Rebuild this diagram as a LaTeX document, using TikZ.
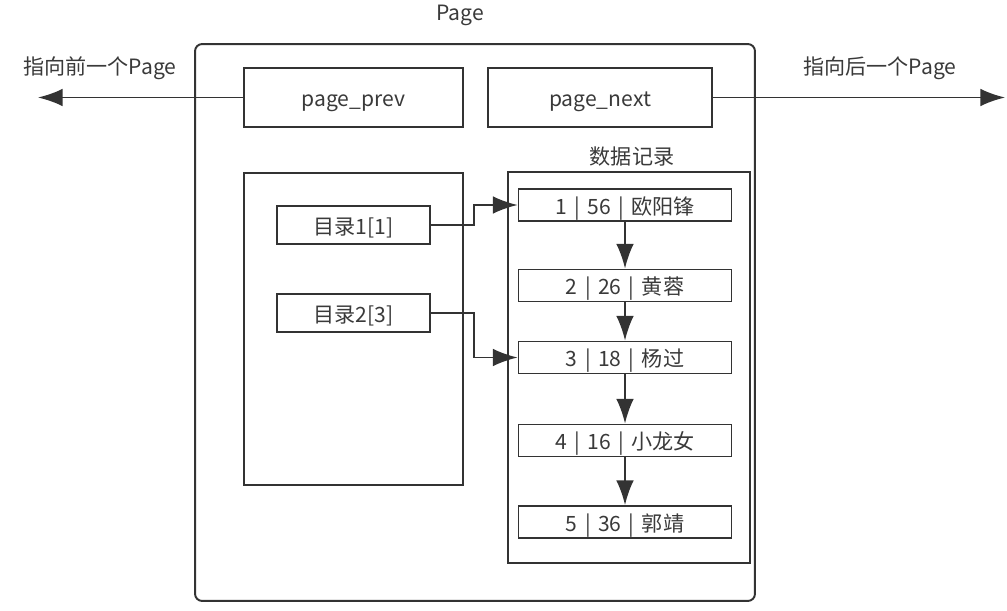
\documentclass[tikz,border=0pt]{standalone}
\usepackage{fontspec}
\setmainfont{Noto Sans CJK SC}
\usetikzlibrary{arrows.meta}
\definecolor{linegray}{HTML}{333333}
\definecolor{textgray}{HTML}{3A3A3A}
\tikzset{
  box/.style={draw=linegray, line width=1.1pt, fill=white, inner sep=0pt,
    text=textgray, font=\fontsize{12}{14}\selectfont,
    text height=1.2em, text depth=0.12em},
  record/.style={box, minimum width=4.26cm, minimum height=0.64cm},
  entry/.style={box, minimum width=3.06cm, minimum height=0.77cm},
  caption/.style={text=textgray, inner sep=0pt, font=\fontsize{12}{14}\selectfont},
  link/.style={draw=linegray, line width=1.1pt, -{Latex[length=14pt,width=10pt]}}
}
\newcommand{\sepbar}{\hspace{0.35em}|\hspace{0.35em}}

\begin{document}
\begin{tikzpicture}[x=0.02cm, y=-0.02cm]

    % Canvas with the reference margins
    \useasboundingbox[fill=white] (0,0) rectangle (1007,611);

    % Outer page frame and its title
    \node[draw=linegray, line width=1.1pt, rounded corners=4pt, minimum width=11.2cm,
      minimum height=11.14cm, inner sep=0pt] (page) at (475,322.5) {};
    \node[caption] (pagetitle) at (460,15) {Page};

    % Pointers to the neighbouring pages
    \node[box, minimum width=4.38cm, minimum height=1.18cm] (prev) at (353.5,97.5) {page\_prev};
    \node[box, minimum width=4.48cm, minimum height=1.18cm] (next) at (600,97.5) {page\_next};
    \coordinate (prevend) at (38,97.5);
    \coordinate (nextend) at (1005,97.5);
    \draw[link] (prev.west) -- (prevend);
    \draw[link] (next.east) -- (nextend);
    \node[caption] (prevtext) at (100,68) {指向前一个Page};
    \node[caption] (nexttext) at (880,68) {指向后一个Page};

    % Directory with its two slots
    \node[box, minimum width=4.38cm, minimum height=6.24cm] (dir) at (353.5,329) {};
    \node[entry] (slot1) at (353.5,225) {目录1[1]};
    \node[entry] (slot2) at (353.5,313) {目录2[3]};

    % Data records
    \node[box, minimum width=4.84cm, minimum height=7.82cm] (data) at (629,367.5) {};
    \node[caption] (datatext) at (632,157) {数据记录};
    \node[record] (rec1) at (625,205) {1\sepbar 56\sepbar 欧阳锋};
    \node[record] (rec2) at (625,285.5) {2\sepbar 26\sepbar 黄蓉};
    \node[record] (rec3) at (625,357.5) {3\sepbar 18\sepbar 杨过};
    \node[record] (rec4) at (625,440.5) {4\sepbar 16\sepbar 小龙女};
    \node[record] (rec5) at (625,522) {5\sepbar 36\sepbar 郭靖};

    % Record chain
    \foreach \a/\b in {rec1/rec2, rec2/rec3, rec3/rec4, rec4/rec5}
      \draw[link] (\a.south) -- (\b.north);

    % Slots pointing into the records
    \coordinate (bend) at (474,0);
    \draw[link] (slot1.east) -- (slot1.east -| bend) |- (rec1.west);
    \draw[link] (slot2.east) -- (slot2.east -| bend) |- (rec3.west);

\end{tikzpicture}
\end{document}
